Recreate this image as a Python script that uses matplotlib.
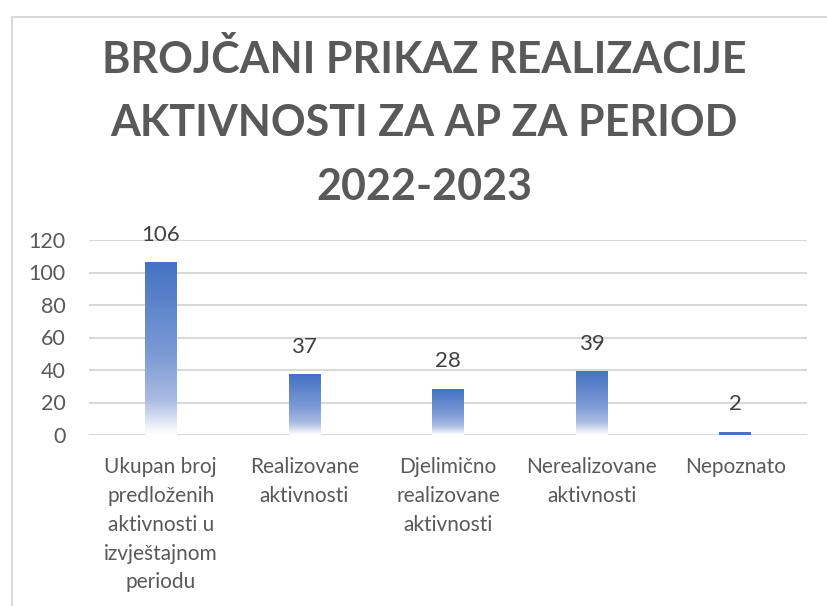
import numpy as np
import matplotlib
matplotlib.use("Agg")
import matplotlib.pyplot as plt
from matplotlib.colors import LinearSegmentedColormap
from matplotlib.patches import Rectangle

categories = ["Ukupan broj\npredloženih\naktivnosti u\nizvještajnom\nperiodu",
              "Realizovane\naktivnosti",
              "Djelimično\nrealizovane\naktivnosti",
              "Nerealizovane\naktivnosti",
              "Nepoznato"]
values = [106, 37, 28, 39, 2]
yticks = [0, 20, 40, 60, 80, 100, 120]
title = "BROJČANI PRIKAZ REALIZACIJE\nAKTIVNOSTI ZA AP ZA PERIOD\n2022-2023"

plt.rcParams['font.family'] = ['Lato', 'DejaVu Sans']

fig = plt.figure(figsize=(8.28, 6.06), dpi=100)
ax = fig.add_axes([89/828, 1-435/606, (807-89)/828, (435-240)/606])

# gradient: blue at top, lighter toward bottom, white at base
grad = LinearSegmentedColormap.from_list("g", [(0.0, "#ffffff"), (0.2, "#aabbe2"),
                                               (0.45, "#7e9cd6"), (1.0, "#4472c4")])
bw = 0.22
x = np.arange(len(values))
for xi, v in zip(x, values):
    if v < 5:
        ax.bar(xi, v, width=bw, color="#4472c4", zorder=3)
    else:
        img = np.linspace(0, 1, 100).reshape(-1, 1)
        ax.imshow(img, cmap=grad, origin="lower", aspect="auto",
                  extent=(xi-bw/2, xi+bw/2, 0, v), zorder=3)
    ax.annotate(str(v), (xi, v), xytext=(0, 13), textcoords="offset points",
                ha="center", va="bottom", fontsize=16, color="#404040")
ax.set_xlim(-0.5, len(values)-0.5)
ax.set_ylim(0, 120)

ax.set_yticks(yticks)
ax.yaxis.grid(True, color="#d9d9d9", lw=1.5, zorder=0)
ax.set_axisbelow(True)
for s in ax.spines.values():
    s.set_visible(False)
ax.tick_params(axis="y", length=0, pad=17, labelsize=15.5, labelcolor="#595959")
ax.set_xticks(x)
ax.set_xticklabels(categories, fontsize=15, color="#595959", linespacing=1.55)
ax.tick_params(axis="x", length=0, pad=16)

fig.text(424/828, 1-123/606, title, ha="center", va="center", fontsize=31,
         fontweight="bold", color="#595959", linespacing=1.7)

fig.patches.append(Rectangle((12/828, -0.1), 1.2, 1-17/606+0.1, transform=fig.transFigure,
                             fill=False, edgecolor="#d9d9d9", lw=1.5))

fig.savefig("out.png", dpi=100)
